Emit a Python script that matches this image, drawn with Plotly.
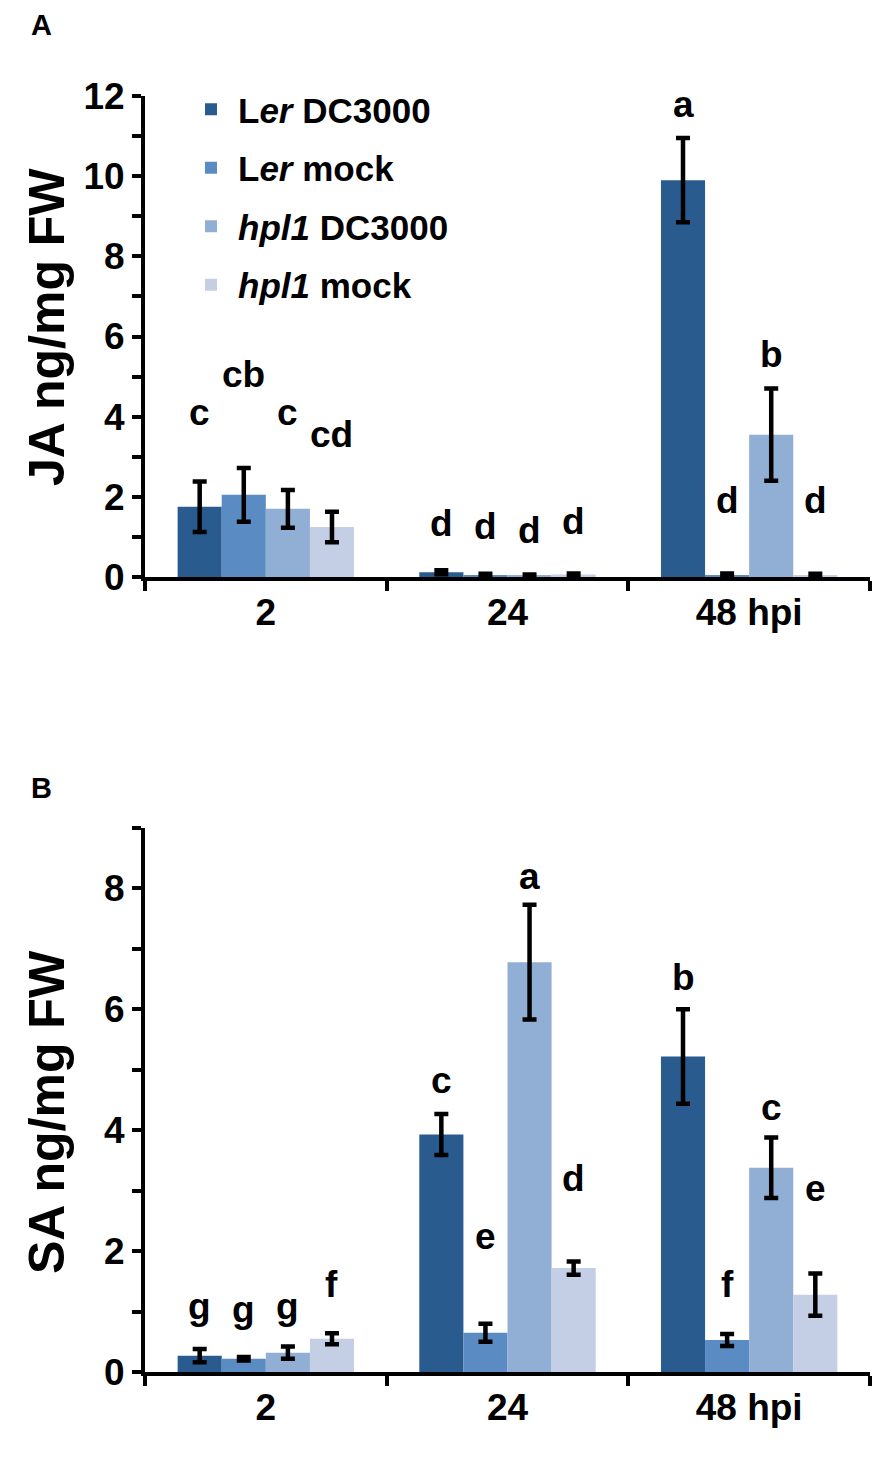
import plotly.graph_objects as go
from plotly.subplots import make_subplots

# Data
timepoints = ["2", "24", "48 hpi"]
series_names = ["L<i>er</i> DC3000", "L<i>er</i> mock", "<i>hpl1</i> DC3000", "<i>hpl1</i> mock"]
colors = ["#2a5b8f", "#5a8bc3", "#91aed4", "#c4cfe5"]

# Panel A: JA (ng/mg FW)
ja_ler_dc = [1.75, 0.12, 9.9]
ja_ler_mock = [2.05, 0.05, 0.05]
ja_hpl_dc = [1.7, 0.04, 3.55]
ja_hpl_mock = [1.25, 0.06, 0.05]
ja_err_ler_dc = [0.63, 0.05, 1.05]
ja_err_ler_mock = [0.67, 0.03, 0.04]
ja_err_hpl_dc = [0.47, 0.02, 1.15]
ja_err_hpl_mock = [0.38, 0.03, 0.03]
ja_letters = [["c", "d", "a"], ["cb", "d", "d"], ["c", "d", "b"], ["cd", "d", "d"]]

# Panel B: SA (ng/mg FW)
sa_ler_dc = [0.27, 3.93, 5.22]
sa_ler_mock = [0.22, 0.65, 0.53]
sa_hpl_dc = [0.32, 6.78, 3.38]
sa_hpl_mock = [0.55, 1.72, 1.28]
sa_err_ler_dc = [0.11, 0.34, 0.78]
sa_err_ler_mock = [0.03, 0.15, 0.1]
sa_err_hpl_dc = [0.1, 0.95, 0.5]
sa_err_hpl_mock = [0.09, 0.11, 0.35]
sa_letters = [["g", "c", "b"], ["g", "e", "f"], ["g", "a", "c"], ["f", "d", "e"]]

# where the significance letters sit (data units)
ja_letter_y = [[4.1, 1.33, 11.8], [5.05, 1.25, 1.9], [4.1, 1.15, 5.55], [3.55, 1.38, 1.9]]
sa_letter_y = [[1.08, 4.83, 6.53], [1.03, 2.25, 1.45], [1.08, 8.2, 4.37], [1.45, 3.2, 3.03]]

ja_vals = [ja_ler_dc, ja_ler_mock, ja_hpl_dc, ja_hpl_mock]
ja_errs = [ja_err_ler_dc, ja_err_ler_mock, ja_err_hpl_dc, ja_err_hpl_mock]
sa_vals = [sa_ler_dc, sa_ler_mock, sa_hpl_dc, sa_hpl_mock]
sa_errs = [sa_err_ler_dc, sa_err_ler_mock, sa_err_hpl_dc, sa_err_hpl_mock]

FONT = "Liberation Sans, Arial, sans-serif"
W, H = 892, 1467
OFF = 8  # page body margin
BARGAP = 0.27


def px(x):
    return (x - OFF) / W


def py(y):
    return 1 - (y - OFF) / H


def bold(size):
    return dict(family=FONT, size=size, color="black", weight="bold")


fig = make_subplots(rows=2, cols=1)

for row, vals, errs in [(1, ja_vals, ja_errs), (2, sa_vals, sa_errs)]:
    for i in range(4):
        fig.add_trace(
            go.Bar(
                x=timepoints,
                y=vals[i],
                name=series_names[i],
                marker=dict(color=colors[i], line=dict(width=0)),
                error_y=dict(type="data", array=errs[i], color="black",
                             thickness=4.5, width=7),
                legendgroup="g%d" % i,
                showlegend=(row == 1),
            ),
            row=row, col=1,
        )

# significance letters
bar_w = (1 - BARGAP) / 4
annotations = []
for xref, yref, letters, ys in [("x", "y", ja_letters, ja_letter_y),
                                ("x2", "y2", sa_letters, sa_letter_y)]:
    for i in range(4):
        for g in range(3):
            annotations.append(dict(
                x=g + (i - 1.5) * bar_w, y=ys[i][g], xref=xref, yref=yref,
                xanchor="center", yanchor="middle",
                text=letters[i][g], showarrow=False, font=bold(37),
            ))

# panel labels and y-axis titles
annotations += [
    dict(x=px(41), y=py(25), text="A", font=bold(29)),
    dict(x=px(41), y=py(788), text="B", font=bold(29)),
    dict(x=px(47), y=py(327), text="JA ng/mg FW", textangle=-90, font=bold(50)),
    dict(x=px(47), y=py(1112), text="SA ng/mg FW", textangle=-90, font=bold(50)),
]
for a in annotations[-4:]:
    a.update(xref="paper", yref="paper", xanchor="center", yanchor="middle", showarrow=False)

fig.update_layout(
    width=W, height=H,
    margin=dict(l=0, r=0, t=0, b=0, autoexpand=False),
    paper_bgcolor="white", plot_bgcolor="white",
    barmode="group", bargap=BARGAP, bargroupgap=0,
    font=bold(36),
    annotations=annotations,
    legend=dict(
        x=px(184), y=py(80), xanchor="left", yanchor="top",
        traceorder="grouped", tracegroupgap=10, itemwidth=44,
        font=bold(35),
        bgcolor="rgba(0,0,0,0)",
    ),
)

fig.update_xaxes(
    domain=[px(145), px(870)], type="category", automargin=False,
    showline=True, linecolor="black", linewidth=4,
    ticks="outside", tickson="boundaries", ticklen=10, tickwidth=4, tickcolor="black",
    ticklabelstandoff=0, showgrid=False, zeroline=False,
    tickfont=bold(37),
)
fig.update_yaxes(
    automargin=False,
    showline=True, linecolor="black", linewidth=4,
    ticks="outside", ticklen=9, tickwidth=4, tickcolor="black",
    showgrid=False, zeroline=False,
    tickfont=bold(37),
)

fig.update_layout(
    yaxis=dict(domain=[py(577), py(96)], range=[0, 12],
               tickvals=list(range(0, 13)),
               ticktext=[str(v) if v % 2 == 0 else "" for v in range(0, 13)]),
    yaxis2=dict(domain=[py(1372), py(828)], range=[0, 9],
                tickvals=list(range(0, 10)),
                ticktext=[str(v) if v % 2 == 0 else "" for v in range(0, 10)]),
)

fig.write_html("out.html")
